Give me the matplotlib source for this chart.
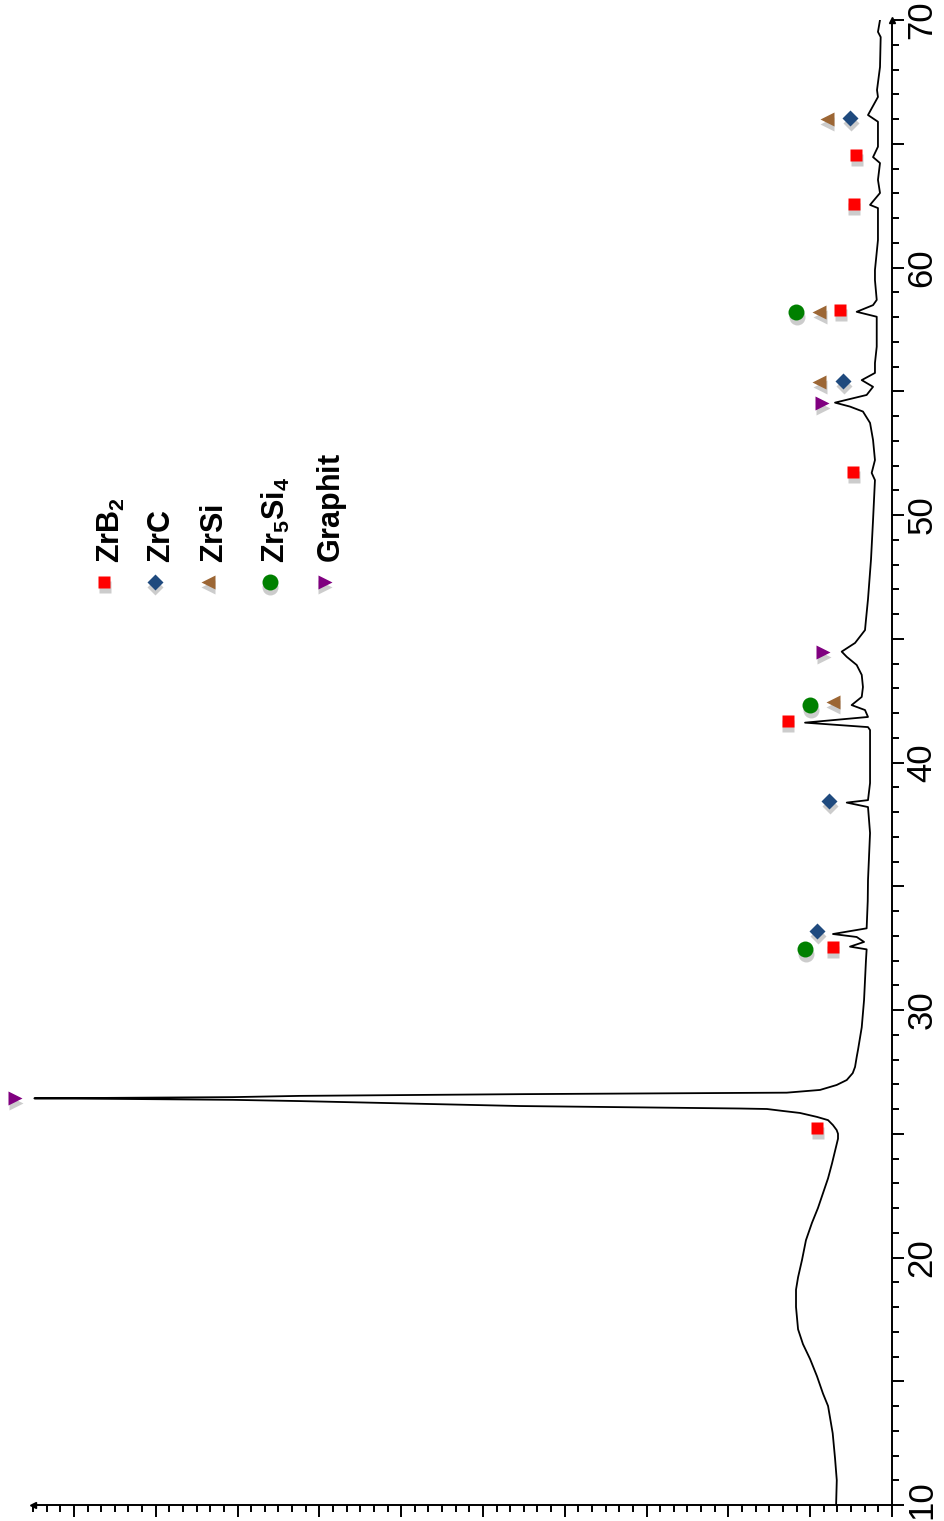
import matplotlib
matplotlib.use('Agg')
import matplotlib.pyplot as plt
from matplotlib.ticker import MultipleLocator, FuncFormatter
from matplotlib.transforms import offset_copy

plt.rcParams['font.family'] = ['Liberation Sans', 'DejaVu Sans']
plt.rcParams['mathtext.fontset'] = 'custom'
plt.rcParams['mathtext.rm'] = 'Liberation Sans'
plt.rcParams['mathtext.bf'] = 'Liberation Sans:bold'

# XRD pattern (2theta in degrees, intensity in counts)
two_theta = [10.0, 11.0, 11.9, 12.9, 14.0, 14.5, 15.2, 15.9, 16.5, 17.1, 18.0, 18.7,
             19.2, 19.9, 20.7, 21.4, 22.0, 22.6, 23.2, 23.8, 24.3, 24.8, 25.0, 25.15,
             25.35, 25.55, 25.68, 25.84, 25.92, 26.0, 26.02, 26.12, 26.32, 26.37, 26.41,
             26.43, 26.45, 26.48, 26.53, 26.60, 26.65, 26.66, 26.77, 26.97, 27.17, 27.45,
             27.70, 28.10, 28.40, 29.30, 30.40, 31.20, 32.00, 32.45, 32.56, 32.75, 32.95,
             33.07, 33.30, 34.40, 35.25, 37.15, 38.20, 38.38, 38.48, 39.17, 41.31, 41.43,
             41.61, 41.84, 42.12, 42.32, 42.65, 43.05, 43.54, 43.94, 44.27, 44.48, 44.83,
             45.35, 45.76, 46.6, 48.2, 49.8, 51.41, 51.70, 52.22, 53.03, 53.72, 54.18,
             54.38, 54.54, 54.85, 55.18, 55.45, 55.74, 56.14, 56.80, 58.01, 58.21, 58.48,
             58.69, 59.49, 59.9, 61.11, 62.40, 62.53, 63.01, 63.54, 64.22, 64.46, 64.88,
             65.89, 66.16, 66.89, 67.17, 68.10, 69.31, 69.52, 70.0]
intensity = [410, 405, 418, 435, 469, 506, 550, 601, 653, 689, 704, 704,
             689, 660, 631, 587, 543, 506, 469, 440, 418, 396, 396, 406,
             433, 469, 550, 675, 799, 917, 1115, 2728, 4342, 4833, 5721,
             6290, 5721, 4833, 4342, 2728, 1115, 772, 528, 406, 332, 288,
             271, 259, 249, 222, 205, 198, 191, 186, 308, 205, 259,
             433, 186, 178, 176, 161, 176, 332, 176, 161, 161, 176,
             638, 176, 198, 296, 222, 213, 222, 259, 332, 369, 271,
             198, 191, 176, 154, 139, 125, 149, 125, 139, 161, 213,
             308, 418, 186, 139, 222, 125, 125, 112, 112, 259, 139,
             112, 125, 125, 103, 103, 161, 88, 103, 88, 139, 103,
             103, 176, 103, 110, 88, 83, 103, 88]

# phase markers
zrb2_tt = [25.23, 32.55, 41.68, 51.74, 58.28, 62.57, 64.55]
zrb2_i = [550, 433, 763, 286, 381, 279, 264]
zrc_tt = [33.19, 38.44, 55.41, 66.04]
zrc_i = [550, 462, 359, 308]
zrsi_tt = [42.44, 55.37, 58.20, 66.0]
zrsi_i = [433, 535, 535, 477]
zr5si4_tt = [32.46, 42.32, 58.20]
zr5si4_i = [638, 601, 704]
graphit_tt = [26.44, 44.46, 54.53]
graphit_i = [6432, 506, 513]

phase_names = [r'$\mathbf{ZrB_2}$', r'$\mathbf{ZrC}$', r'$\mathbf{ZrSi}$',
               r'$\mathbf{Zr_5Si_4}$', r'$\mathbf{Graphit}$']

styles = [('s', '#ff0000', 9), ('D', '#1f4a7e', 8), ('<', '#9c6634', 10),
          ('o', '#008000', 11.5), ('>', '#800080', 10)]
data = [(zrb2_tt, zrb2_i), (zrc_tt, zrc_i), (zrsi_tt, zrsi_i),
        (zr5si4_tt, zr5si4_i), (graphit_tt, graphit_i)]

fig = plt.figure(figsize=(9.45, 15.21), dpi=100)
ax = fig.add_axes([33 / 945, 16 / 1521, 859 / 945, 1485 / 1521])

ax.plot(intensity, two_theta, color='black', lw=1.3, zorder=2)

shadow = offset_copy(ax.transData, fig=fig, x=0.5, y=-5, units='dots')
for (mk, col, ms), (tt, ii) in zip(styles, data):
    ax.plot(ii, tt, ls='none', marker=mk, ms=ms, color='#cccccc', mec='none',
            transform=shadow, clip_on=False, zorder=3)
    ax.plot(ii, tt, ls='none', marker=mk, ms=ms, color=col, mec='none',
            clip_on=False, zorder=4)

# legend, drawn by hand because the text is rotated
leg_x = [0.0832, 0.1420, 0.2037, 0.2759, 0.3399]
leg_y = 0.6215
shadow_ax = offset_copy(ax.transAxes, fig=fig, x=0.5, y=-5, units='dots')
for x, name, (mk, col, ms) in zip(leg_x, phase_names, styles):
    ax.plot([x], [leg_y], marker=mk, ms=ms, color='#cccccc', mec='none',
            transform=shadow_ax, clip_on=False)
    ax.plot([x], [leg_y], marker=mk, ms=ms, color=col, mec='none',
            transform=ax.transAxes, clip_on=False)
    ax.text(x + 15 / 859, 0.6343, name, transform=ax.transAxes, rotation=90,
            rotation_mode='anchor', ha='left', va='baseline', fontsize=22)

ax.set_xlim(6300, 0)
ax.set_ylim(10, 70)

ax.spines['top'].set_visible(False)
ax.spines['left'].set_visible(False)
ax.spines['right'].set_linewidth(1.4)
ax.spines['bottom'].set_linewidth(1.4)

tick_len = 8.6
tick_pad = 1
ax.yaxis.tick_right()
ax.yaxis.set_major_locator(MultipleLocator(5))
ax.yaxis.set_minor_locator(MultipleLocator(1))
# every 10 degrees gets a label; the lowest one is placed by hand below
ax.yaxis.set_major_formatter(FuncFormatter(lambda v, p: '%d' % v if v % 10 == 0 and v > 10 else ''))
ax.xaxis.set_major_locator(MultipleLocator(600))
ax.xaxis.set_minor_locator(MultipleLocator(100))

ax.tick_params(axis='y', which='major', direction='out', length=tick_len, width=1.4,
               labelsize=25, labelrotation=90, pad=tick_pad)
ax.tick_params(axis='y', which='minor', direction='out', length=5, width=1.4)
ax.tick_params(axis='x', which='major', direction='out', length=tick_len, width=1.4,
               labelbottom=False)
ax.tick_params(axis='x', which='minor', direction='out', length=5, width=1.4)
plt.setp(ax.get_yticklabels(), va='center')

# "10" nudged up a little so it stays inside the figure
low_trans = offset_copy(ax.get_yaxis_transform(), fig=fig, x=tick_len + tick_pad, y=4,
                        units='points')
ax.text(1.0, 10, '10', transform=low_trans, rotation=90, ha='left', va='center',
        fontsize=25, clip_on=False)

# small arrow heads at the axis ends
ax.plot([1], [1], marker='^', ms=5, color='black', transform=ax.transAxes, clip_on=False)
ax.plot([0], [0], marker='<', ms=5, color='black', transform=ax.transAxes, clip_on=False)

fig.savefig('out.png', dpi=100)
